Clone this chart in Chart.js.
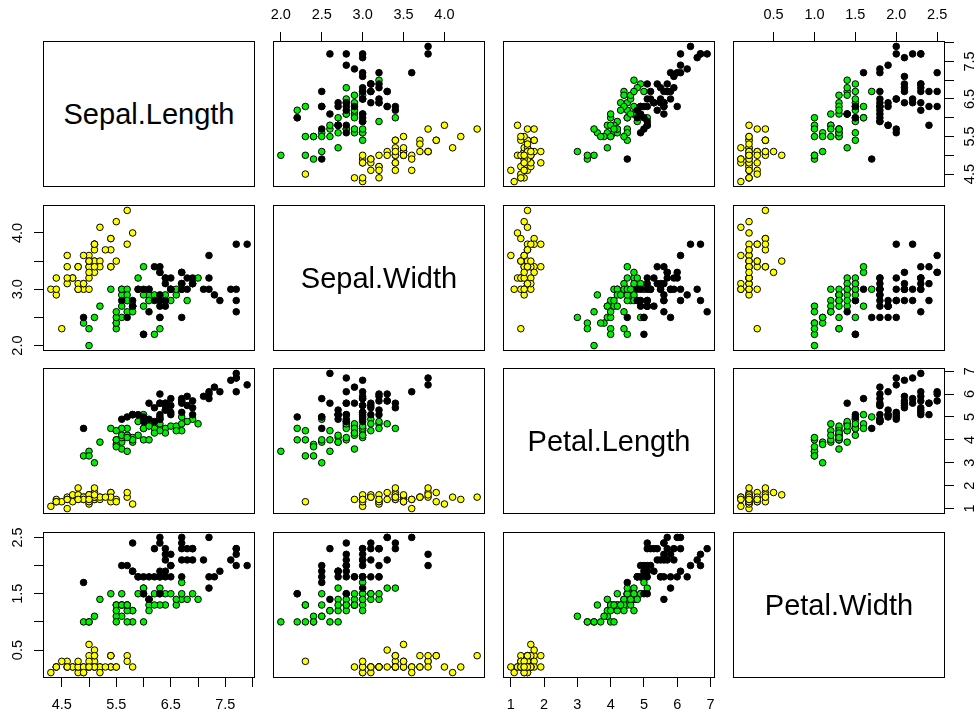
<!DOCTYPE html>
<html>
<head>
<meta charset="utf-8">
<title>Iris pairs</title>
<script src="https://cdn.jsdelivr.net/npm/chart.js@4.4.1/dist/chart.umd.min.js"></script>
<style>
  html, body { margin: 0; padding: 0; background: #fff; }
  #wrap { position: relative; width: 976px; height: 715px; overflow: hidden; }
  #wrap canvas { position: absolute; }
  .diag {
    position: absolute; box-sizing: border-box; border: 1px solid #000;
    display: flex; align-items: center; justify-content: center;
    font-family: "Liberation Sans", Arial, sans-serif; font-size: 29px; color: #000;
  }
</style>
</head>
<body>
<div id="wrap"></div>
<script>
// iris, one array per species and variable
const setosaSL = [5.1,4.9,4.7,4.6,5.0,5.4,4.6,5.0,4.4,4.9,5.4,4.8,4.8,4.3,5.8,5.7,5.4,5.1,5.7,5.1,5.4,5.1,4.6,5.1,4.8,5.0,5.0,5.2,5.2,4.7,4.8,5.4,5.2,5.5,4.9,5.0,5.5,4.9,4.4,5.1,5.0,4.5,4.4,5.0,5.1,4.8,5.1,4.6,5.3,5.0];
const setosaSW = [3.5,3.0,3.2,3.1,3.6,3.9,3.4,3.4,2.9,3.1,3.7,3.4,3.0,3.0,4.0,4.4,3.9,3.5,3.8,3.8,3.4,3.7,3.6,3.3,3.4,3.0,3.4,3.5,3.4,3.2,3.1,3.4,4.1,4.2,3.1,3.2,3.5,3.6,3.0,3.4,3.5,2.3,3.2,3.5,3.8,3.0,3.8,3.2,3.7,3.3];
const setosaPL = [1.4,1.4,1.3,1.5,1.4,1.7,1.4,1.5,1.4,1.5,1.5,1.6,1.4,1.1,1.2,1.5,1.3,1.4,1.7,1.5,1.7,1.5,1.0,1.7,1.9,1.6,1.6,1.5,1.4,1.6,1.6,1.5,1.5,1.4,1.5,1.2,1.3,1.4,1.3,1.5,1.3,1.3,1.3,1.6,1.9,1.4,1.6,1.4,1.5,1.4];
const setosaPW = [0.2,0.2,0.2,0.2,0.2,0.4,0.3,0.2,0.2,0.1,0.2,0.2,0.1,0.1,0.2,0.4,0.4,0.3,0.3,0.3,0.2,0.4,0.2,0.5,0.2,0.2,0.4,0.2,0.2,0.2,0.2,0.4,0.1,0.2,0.2,0.2,0.2,0.1,0.2,0.2,0.3,0.3,0.2,0.6,0.4,0.3,0.2,0.2,0.2,0.2];

const versicolorSL = [7.0,6.4,6.9,5.5,6.5,5.7,6.3,4.9,6.6,5.2,5.0,5.9,6.0,6.1,5.6,6.7,5.6,5.8,6.2,5.6,5.9,6.1,6.3,6.1,6.4,6.6,6.8,6.7,6.0,5.7,5.5,5.5,5.8,6.0,5.4,6.0,6.7,6.3,5.6,5.5,5.5,6.1,5.8,5.0,5.6,5.7,5.7,6.2,5.1,5.7];
const versicolorSW = [3.2,3.2,3.1,2.3,2.8,2.8,3.3,2.4,2.9,2.7,2.0,3.0,2.2,2.9,2.9,3.1,3.0,2.7,2.2,2.5,3.2,2.8,2.5,2.8,2.9,3.0,2.8,3.0,2.9,2.6,2.4,2.4,2.7,2.7,3.0,3.4,3.1,2.3,3.0,2.5,2.6,3.0,2.6,2.3,2.7,3.0,2.9,2.9,2.5,2.8];
const versicolorPL = [4.7,4.5,4.9,4.0,4.6,4.5,4.7,3.3,4.6,3.9,3.5,4.2,4.0,4.7,3.6,4.4,4.5,4.1,4.5,3.9,4.8,4.0,4.9,4.7,4.3,4.4,4.8,5.0,4.5,3.5,3.8,3.7,3.9,5.1,4.5,4.5,4.7,4.4,4.1,4.0,4.4,4.6,4.0,3.3,4.2,4.2,4.2,4.3,3.0,4.1];
const versicolorPW = [1.4,1.5,1.5,1.3,1.5,1.3,1.6,1.0,1.3,1.4,1.0,1.5,1.0,1.4,1.3,1.4,1.5,1.0,1.5,1.1,1.8,1.3,1.5,1.2,1.3,1.4,1.4,1.7,1.5,1.0,1.1,1.0,1.2,1.6,1.5,1.6,1.5,1.3,1.3,1.3,1.2,1.4,1.2,1.0,1.3,1.2,1.3,1.3,1.1,1.3];

const virginicaSL = [6.3,5.8,7.1,6.3,6.5,7.6,4.9,7.3,6.7,7.2,6.5,6.4,6.8,5.7,5.8,6.4,6.5,7.7,7.7,6.0,6.9,5.6,7.7,6.3,6.7,7.2,6.2,6.1,6.4,7.2,7.4,7.9,6.4,6.3,6.1,7.7,6.3,6.4,6.0,6.9,6.7,6.9,5.8,6.8,6.7,6.7,6.3,6.5,6.2,5.9];
const virginicaSW = [3.3,2.7,3.0,2.9,3.0,3.0,2.5,2.9,2.5,3.6,3.2,2.7,3.0,2.5,2.8,3.2,3.0,3.8,2.6,2.2,3.2,2.8,2.8,2.7,3.3,3.2,2.8,3.0,2.8,3.0,2.8,3.8,2.8,2.8,2.6,3.0,3.4,3.1,3.0,3.1,3.1,3.1,2.7,3.2,3.3,3.0,2.5,3.0,3.4,3.0];
const virginicaPL = [6.0,5.1,5.9,5.6,5.8,6.6,4.5,6.3,5.8,6.1,5.1,5.3,5.5,5.0,5.1,5.3,5.5,6.7,6.9,5.0,5.7,4.9,6.7,4.9,5.7,6.0,4.8,4.9,5.6,5.8,6.1,6.4,5.6,5.1,5.6,6.1,5.6,5.5,4.8,5.4,5.6,5.1,5.1,5.9,5.7,5.2,5.0,5.2,5.4,5.1];
const virginicaPW = [2.5,1.9,2.1,1.8,2.2,2.1,1.7,1.8,1.8,2.5,2.0,1.9,2.1,2.0,2.4,2.3,1.8,2.2,2.3,1.5,2.3,2.0,2.0,1.8,2.1,1.8,1.8,1.8,2.1,1.6,1.9,2.0,2.2,1.5,1.4,2.3,2.4,1.8,1.8,2.1,2.4,2.3,1.9,2.3,2.5,2.3,1.9,2.0,2.3,1.8];

const speciesColors = ['#ffff00', '#00ee00', '#000000'];

// tick positions, and which of them get a label on horizontal / vertical axes
const slTicks = [4.5, 5, 5.5, 6, 6.5, 7, 7.5, 8];
const swTicks = [2, 2.5, 3, 3.5, 4];
const plTicks = [1, 2, 3, 4, 5, 6, 7];
const pwTicks = [0.5, 1, 1.5, 2, 2.5];
const slXLabels = ['4.5', '5.5', '6.5', '7.5'];
const slYLabels = ['4.5', '5.5', '6.5', '7.5'];
const swXLabels = ['2.0', '2.5', '3.0', '3.5', '4.0'];
const swYLabels = ['2.0', '3.0', '4.0'];
const plXLabels = ['1', '2', '3', '4', '5', '6', '7'];
const plYLabels = ['1', '2', '3', '4', '5', '6', '7'];
const pwXLabels = ['0.5', '1.0', '1.5', '2.0', '2.5'];
const pwYLabels = ['0.5', '1.5', '2.5'];

const vars = [
  { name: 'Sepal.Length', data: [setosaSL, versicolorSL, virginicaSL], ticks: slTicks, xLabels: slXLabels, yLabels: slYLabels, digits: 1 },
  { name: 'Sepal.Width',  data: [setosaSW, versicolorSW, virginicaSW], ticks: swTicks, xLabels: swXLabels, yLabels: swYLabels, digits: 1 },
  { name: 'Petal.Length', data: [setosaPL, versicolorPL, virginicaPL], ticks: plTicks, xLabels: plXLabels, yLabels: plYLabels, digits: 0 },
  { name: 'Petal.Width',  data: [setosaPW, versicolorPW, virginicaPW], ticks: pwTicks, xLabels: pwXLabels, yLabels: pwYLabels, digits: 1 }
];

// layout of the 4x4 grid
const colX = [43, 273, 503, 733];
const rowY = [41, 205, 368, 532];
const panelW = 212, panelH = 146;
const M = 45;      // canvas margin round each panel
const AX = 40;     // room kept for an axis
const FONT = '"Liberation Sans", Arial, sans-serif';
const TICK_SIZE = 14.5;

Chart.defaults.font.family = FONT;
Chart.defaults.font.size = TICK_SIZE;
Chart.defaults.color = '#000';

// R style range: data extent widened by 4%
vars.forEach(v => {
  const all = v.data.flat();
  const lo = Math.min(...all), hi = Math.max(...all);
  const d = (hi - lo) * 0.04;
  v.min = lo - d;
  v.max = hi + d;
});

const measure = document.createElement('canvas').getContext('2d');
measure.font = TICK_SIZE + 'px ' + FONT;
function widest(labels) {
  return Math.max(...labels.map(l => measure.measureText(l).width));
}

const panelBox = {
  id: 'panelBox',
  beforeDatasetsDraw(chart) {
    const { ctx, chartArea: a } = chart;
    ctx.save();
    ctx.strokeStyle = '#000';
    ctx.lineWidth = 1;
    ctx.strokeRect(a.left + 0.5, a.top + 0.5, a.right - a.left - 1, a.bottom - a.top - 1);
    ctx.restore();
  }
};

function scaleOpts(v, axis, pos, shown) {
  const labels = axis === 'x' ? v.xLabels : v.yLabels;
  const rot = axis === 'x' ? 0 : 90;
  // labels centred ~25px off the panel edge (bottom a little further)
  let pad;
  if (axis === 'x') pad = pos === 'bottom' ? 9.6 : 7.9;
  else pad = 16 - widest(labels) / 2;
  return {
    type: 'linear',
    position: pos,
    display: shown,
    min: v.min,
    max: v.max,
    afterBuildTicks: s => { s.ticks = v.ticks.map(t => ({ value: t })); },
    afterFit: s => {
      if (axis === 'x') s.height = shown ? AX : 0;
      else s.width = shown ? AX : 0;
    },
    grid: { drawOnChartArea: false, drawTicks: true, tickLength: 9, color: '#000', lineWidth: 1 },
    border: { display: false },
    ticks: {
      autoSkip: false,
      minRotation: rot,
      maxRotation: rot,
      crossAlign: axis === 'x' ? 'near' : 'center',
      padding: pad,
      color: '#000',
      callback: val => {
        const s = Number(val).toFixed(v.digits);
        return labels.includes(s) ? s : '';
      }
    }
  };
}

const wrap = document.getElementById('wrap');

for (let r = 0; r < 4; r++) {
  for (let c = 0; c < 4; c++) {
    if (r === c) {
      const d = document.createElement('div');
      d.className = 'diag';
      d.style.left = colX[c] + 'px';
      d.style.top = rowY[r] + 'px';
      d.style.width = panelW + 'px';
      d.style.height = panelH + 'px';
      d.textContent = vars[r].name;
      wrap.appendChild(d);
      continue;
    }

    const hasTop = r === 0 && c % 2 === 1;
    const hasBottom = r === 3 && c % 2 === 0;
    const hasLeft = c === 0 && r % 2 === 1;
    const hasRight = c === 3 && r % 2 === 0;

    const vx = vars[c], vy = vars[r];

    const canvas = document.createElement('canvas');
    canvas.width = panelW + 2 * M;
    canvas.height = panelH + 2 * M;
    canvas.style.left = (colX[c] - M) + 'px';
    canvas.style.top = (rowY[r] - M) + 'px';
    wrap.appendChild(canvas);

    const datasets = [0, 1, 2].map(s => ({
      data: vx.data[s].map((x, i) => ({ x: x, y: vy.data[s][i] })),
      pointRadius: 3.3,
      pointBorderWidth: 1,
      pointBackgroundColor: speciesColors[s],
      pointBorderColor: '#000',
      order: 2 - s   // virginica drawn last, as in R
    }));

    new Chart(canvas, {
      type: 'scatter',
      data: { datasets },
      options: {
        responsive: false,
        animation: false,
        events: [],
        layout: {
          padding: {
            top: hasTop ? M - AX : M,
            bottom: hasBottom ? M - AX : M,
            left: hasLeft ? M - AX : M,
            right: hasRight ? M - AX : M
          }
        },
        plugins: { legend: { display: false }, tooltip: { enabled: false } },
        scales: {
          x: scaleOpts(vx, 'x', hasTop ? 'top' : 'bottom', hasTop || hasBottom),
          y: scaleOpts(vy, 'y', hasRight ? 'right' : 'left', hasLeft || hasRight)
        }
      },
      plugins: [panelBox]
    });
  }
}
</script>
</body>
</html>
